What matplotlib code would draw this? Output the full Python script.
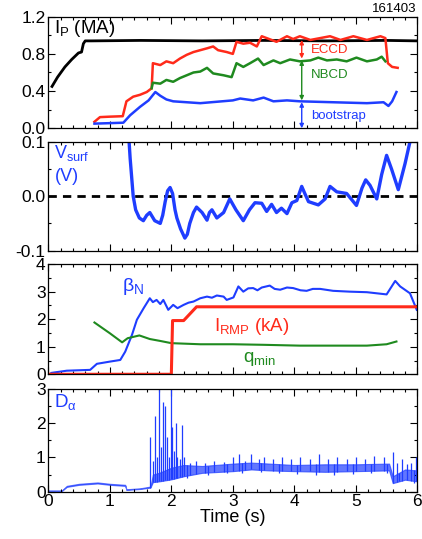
import numpy as np
import matplotlib
matplotlib.use("Agg")
import matplotlib.pyplot as plt
from matplotlib.ticker import MultipleLocator, FormatStrFormatter

plt.rcParams['font.family'] = ['Liberation Sans', 'DejaVu Sans']
plt.rcParams['mathtext.fontset'] = 'custom'
plt.rcParams['mathtext.rm'] = 'Liberation Sans'
plt.rcParams['mathtext.it'] = 'Liberation Sans'

BLUE = '#1f3dff'
RED = '#ff2a1a'
GREEN = '#1f8a1f'

# ---- panel 1: plasma current and its parts (MA)
ip_t = [0.06, 0.15, 0.27, 0.38, 0.49, 0.54, 0.57, 0.6, 0.7, 1.5, 2.5, 3.5, 4.5, 5.5, 6.0]
ip_v = [0.45, 0.55, 0.66, 0.74, 0.81, 0.82, 0.91, 0.94, 0.94, 0.945, 0.94, 0.945, 0.94, 0.945, 0.94]

eccd_t = [0.75, 0.84, 1.0, 1.21, 1.27, 1.38, 1.49, 1.6, 1.68, 1.70, 1.82, 1.92, 2.03, 2.14, 2.25,
          2.36, 2.47, 2.58, 2.68, 2.76, 2.9, 3.0, 3.06, 3.17, 3.28, 3.39, 3.47, 3.55, 3.71, 3.88,
          3.98, 4.09, 4.26, 4.42, 4.58, 4.75, 4.96, 5.18, 5.40, 5.48, 5.52, 5.59, 5.68]
eccd_v = [0.07, 0.12, 0.125, 0.13, 0.29, 0.34, 0.36, 0.39, 0.43, 0.70, 0.68, 0.72, 0.70, 0.75, 0.79,
          0.82, 0.84, 0.86, 0.88, 0.84, 0.82, 0.80, 0.93, 0.91, 0.92, 0.88, 0.99, 0.97, 0.93, 0.99,
          0.96, 0.99, 0.95, 0.97, 0.99, 0.95, 0.99, 0.95, 0.99, 0.97, 0.70, 0.66, 0.65]

nbcd_t = [1.68, 1.70, 1.82, 1.92, 2.03, 2.14, 2.25, 2.36, 2.47, 2.58, 2.68, 2.85, 2.98, 3.06, 3.17,
          3.28, 3.41, 3.50, 3.66, 3.77, 3.93, 4.09, 4.26, 4.39, 4.53, 4.69, 4.85, 5.01, 5.18, 5.34,
          5.42, 5.48]
nbcd_v = [0.43, 0.49, 0.48, 0.52, 0.50, 0.54, 0.57, 0.60, 0.61, 0.65, 0.59, 0.57, 0.55, 0.70, 0.66,
          0.70, 0.75, 0.68, 0.73, 0.70, 0.74, 0.72, 0.73, 0.76, 0.73, 0.74, 0.72, 0.76, 0.72, 0.74,
          0.77, 0.72]

bs_t = [0.75, 1.22, 1.33, 1.49, 1.63, 1.74, 1.82, 1.92, 2.03, 2.47, 3.0, 3.12, 3.33, 3.50, 3.66,
        3.88, 4.09, 4.63, 5.18, 5.45, 5.53, 5.59, 5.66]
bs_v = [0.05, 0.06, 0.14, 0.23, 0.30, 0.39, 0.35, 0.31, 0.29, 0.27, 0.30, 0.32, 0.30, 0.33, 0.29,
        0.30, 0.29, 0.28, 0.27, 0.28, 0.24, 0.29, 0.39]

# ---- panel 2: surface loop voltage (V)
vs_t = [1.28, 1.33, 1.38, 1.42, 1.48, 1.545, 1.6, 1.65, 1.73, 1.82, 1.86, 1.9, 1.94, 1.98, 2.02,
        2.06, 2.09, 2.15, 2.22, 2.26, 2.3, 2.36, 2.41, 2.5, 2.58, 2.62, 2.66, 2.74, 2.85, 2.95,
        3.05, 3.17, 3.27, 3.36, 3.47, 3.55, 3.63, 3.71, 3.79, 3.88, 3.96, 4.04, 4.12, 4.17, 4.23,
        4.39, 4.5, 4.58, 4.69, 4.85, 5.01, 5.1, 5.16, 5.23, 5.34, 5.42, 5.5, 5.58, 5.69, 5.8,
        5.88, 5.95]
vs_v = [0.16, 0.07, 0.0, -0.025, -0.04, -0.045, -0.035, -0.03, -0.045, -0.05, -0.035, -0.01,
        0.01, 0.016, 0.005, -0.025, -0.04, -0.06, -0.077, -0.07, -0.05, -0.03, -0.02, -0.03,
        -0.044, -0.03, -0.025, -0.04, -0.03, -0.005, -0.025, -0.045, -0.025, -0.012, -0.013,
        -0.028, -0.015, -0.03, -0.022, -0.032, -0.012, -0.008, 0.018, 0.005, -0.01, -0.016,
        -0.005, 0.018, 0.008, 0.005, -0.017, 0.015, 0.03, 0.02, -0.005, 0.04, 0.075, 0.05,
        0.012, 0.06, 0.1, 0.13]

# ---- panel 3: beta_N, I_RMP (kA), q_min
bn_t = [0.05, 0.11, 0.3, 0.68, 0.79, 1.0, 1.17, 1.25, 1.36, 1.44, 1.55, 1.65, 1.7, 1.76, 1.82,
        1.87, 1.95, 2.03, 2.1, 2.2, 2.28, 2.36, 2.47, 2.58, 2.66, 2.74, 2.85, 2.9, 3.01, 3.09,
        3.17, 3.25, 3.33, 3.4, 3.47, 3.6, 3.68, 3.77, 3.88, 3.98, 4.1, 4.2, 4.3, 4.42, 4.63, 4.9,
        5.18, 5.5, 5.64, 5.72, 5.88, 5.99]
bn_v = [0.05, 0.07, 0.13, 0.16, 0.38, 0.46, 0.52, 0.82, 1.43, 1.98, 2.4, 2.76, 2.62, 2.7, 2.55,
        2.7, 2.34, 2.52, 2.4, 2.52, 2.6, 2.64, 2.76, 2.82, 2.78, 2.86, 2.82, 2.7, 2.79, 3.19,
        3.0, 3.12, 3.13, 3.05, 3.15, 3.22, 3.1, 3.07, 3.15, 3.13, 3.05, 3.03, 3.1, 3.1, 3.03, 3.0,
        2.98, 2.9, 3.39, 3.19, 2.94, 2.34]

rmp_t = [0.0, 2.0, 2.02, 2.2, 2.41, 6.0]
rmp_v = [0.0, 0.0, 1.95, 1.95, 2.45, 2.45]

qm_t = [0.75, 1.0, 1.2, 1.29, 1.48, 1.65, 1.82, 2.0, 2.47, 3.0, 3.5, 4.09, 4.63, 5.18, 5.5, 5.66]
qm_v = [1.88, 1.49, 1.16, 1.31, 1.41, 1.28, 1.21, 1.13, 1.09, 1.09, 1.07, 1.04, 1.04, 1.04, 1.09, 1.19]

# ---- panel 4: D-alpha, envelope of the noisy band, ELM spikes and dips
da_t = [0.0, 0.22, 0.3, 0.5, 0.8, 1.0, 1.25, 1.27, 1.5, 1.66, 1.7, 1.8, 2.0, 2.2, 2.5, 3.0, 3.3,
        3.6, 4.0, 4.5, 5.0, 5.5, 5.54, 5.6, 5.8, 6.0]
da_lo = [0.02, 0.02, 0.14, 0.2, 0.24, 0.2, 0.17, 0.05, 0.08, 0.12, 0.28, 0.3, 0.36, 0.45, 0.55,
         0.6, 0.65, 0.62, 0.6, 0.58, 0.6, 0.62, 0.62, 0.25, 0.35, 0.3]
da_hi = [0.035, 0.035, 0.17, 0.23, 0.27, 0.23, 0.2, 0.07, 0.1, 0.15, 0.5, 0.55, 0.7, 0.78, 0.75,
         0.82, 0.85, 0.82, 0.78, 0.8, 0.8, 0.82, 0.82, 0.45, 0.65, 0.62]
elm_t = [1.66, 1.70, 1.73, 1.77, 1.80, 1.84, 1.87, 1.90, 1.93, 1.96, 1.99, 2.01, 2.04, 2.07, 2.10,
         2.14, 2.17, 2.2, 2.3, 2.4, 2.55, 2.7, 2.85, 3.0, 3.1, 3.2, 3.3, 3.42, 3.5, 3.65, 3.8,
         3.95, 4.1, 4.25, 4.4, 4.55, 4.7, 4.85, 5.0, 5.15, 5.3, 5.45, 5.6, 5.67, 5.75, 5.83, 5.9,
         5.98]
elm_v = [1.6, 0.9, 2.2, 1.0, 3.1, 1.3, 2.63, 2.5, 1.6, 1.0, 3.1, 1.9, 1.2, 2.0, 1.0,
         0.95, 1.95, 1.0, 0.85, 0.9, 0.85, 0.9, 0.88, 1.0, 1.1, 0.9, 1.1, 0.95, 1.0, 0.95, 1.0,
         0.95, 1.0, 0.95, 1.1, 0.95, 1.0, 0.95, 1.0, 0.95, 1.05, 1.0, 1.15, 0.85, 0.95, 0.8, 0.85,
         1.0]
dip_t = [2.25, 2.6, 2.9, 3.15, 3.45, 3.75, 4.05, 4.35, 4.65, 4.95, 5.25, 5.5, 5.7, 5.95]
dip_v = [0.4, 0.5, 0.55, 0.55, 0.58, 0.55, 0.52, 0.5, 0.5, 0.52, 0.55, 0.55, 0.3, 0.25]

fig = plt.figure(figsize=(4.22, 5.39), dpi=100)
L, W = 0.1145, 0.8745
ax1 = fig.add_axes([L, 0.762, W, 0.207])
ax2 = fig.add_axes([L, 0.535, W, 0.202])
ax3 = fig.add_axes([L, 0.3056, W, 0.2044])
ax4 = fig.add_axes([L, 0.0878, W, 0.1905])

for ax in (ax1, ax2, ax3, ax4):
    ax.set_xlim(0, 6)
    ax.xaxis.set_major_locator(MultipleLocator(1))
    ax.xaxis.set_minor_locator(MultipleLocator(0.2))
    ax.tick_params(which='both', direction='in', top=True, right=True, labelsize=12.5, pad=2)
    ax.tick_params(which='major', length=5, width=0.8)
    ax.tick_params(which='minor', length=2.5, width=0.8)
    for s in ax.spines.values():
        s.set_linewidth(0.9)
    if ax is not ax4:
        ax.tick_params(labelbottom=False)

# panel 1
ax1.plot(ip_t, ip_v, color='black', lw=2.0)
ax1.plot(eccd_t, eccd_v, color=RED, lw=1.8)
ax1.plot(nbcd_t, nbcd_v, color=GREEN, lw=1.8)
ax1.plot(bs_t, bs_v, color=BLUE, lw=1.8)
ax1.set_ylim(0, 1.2)
ax1.yaxis.set_major_locator(MultipleLocator(0.4))
ax1.yaxis.set_minor_locator(MultipleLocator(0.2))
ax1.yaxis.set_major_formatter(FormatStrFormatter('%.1f'))
ax1.text(0.1, 1.19, r'I$_\mathrm{P}$ (MA)', fontsize=13.5, va='top', ha='left')
arr_t = 4.12
for y0, y1, c in [(0.95, 0.75, RED), (0.73, 0.3, GREEN), (0.28, 0.0, BLUE)]:
    ax1.annotate('', xy=(arr_t, y1), xytext=(arr_t, y0),
                 arrowprops=dict(arrowstyle='<|-|>', color=c, lw=1.0, mutation_scale=6,
                                 shrinkA=0, shrinkB=0))
ax1.text(4.27, 0.84, 'ECCD', color=RED, fontsize=9.5, va='center')
ax1.text(4.27, 0.57, 'NBCD', color=GREEN, fontsize=9.5, va='center')
ax1.text(4.27, 0.13, 'bootstrap', color=BLUE, fontsize=9.5, va='center')
fig.text(0.988, 0.972, '161403', fontsize=9.5, ha='right', va='bottom')

# panel 2
ax2.axhline(0, color='black', lw=2.0, ls=(0, (3, 2.2)))
ax2.plot(vs_t, vs_v, color=BLUE, lw=2.4, solid_joinstyle='round', solid_capstyle='round')
ax2.set_ylim(-0.1, 0.1)
ax2.yaxis.set_major_locator(MultipleLocator(0.1))
ax2.yaxis.set_minor_locator(MultipleLocator(0.05))
ax2.yaxis.set_major_formatter(FormatStrFormatter('%.1f'))
ax2.text(0.1, 0.098, r'V$_\mathrm{surf}$', color=BLUE, fontsize=13, va='top', ha='left')
ax2.text(0.1, 0.052, '(V)', color=BLUE, fontsize=13, va='top', ha='left')

# panel 3
ax3.plot(bn_t, bn_v, color=BLUE, lw=1.5)
ax3.plot(qm_t, qm_v, color=GREEN, lw=1.5)
ax3.plot(rmp_t, rmp_v, color=RED, lw=2.2)
ax3.set_ylim(0, 4)
ax3.yaxis.set_major_locator(MultipleLocator(1))
ax3.yaxis.set_minor_locator(MultipleLocator(0.5))
ax3.text(1.2, 3.2, r'$\beta_\mathrm{N}$', color=BLUE, fontsize=14, va='center', ha='left')
ax3.text(2.7, 1.75, r'I$_\mathrm{RMP}$ (kA)', color=RED, fontsize=13.5, va='center', ha='left')
ax3.text(3.17, 0.55, r'q$_\mathrm{min}$', color=GREEN, fontsize=13.5, va='center', ha='left')

# panel 4
ax4.fill_between(da_t, da_lo, da_hi, color=BLUE, alpha=0.7, lw=0.8)
ax4.vlines(elm_t, np.interp(elm_t, da_t, da_lo), elm_v, color=BLUE, lw=0.9)
ax4.vlines(dip_t, dip_v, np.interp(dip_t, da_t, da_hi), color=BLUE, lw=0.9)
ax4.set_ylim(0, 3)
ax4.yaxis.set_major_locator(MultipleLocator(1))
ax4.yaxis.set_minor_locator(MultipleLocator(0.5))
ax4.text(0.1, 2.9, r'D$_\alpha$', color=BLUE, fontsize=13.5, va='top', ha='left')
ax4.set_xlabel('Time (s)', fontsize=13, labelpad=0)

fig.savefig('out.png', dpi=100)
